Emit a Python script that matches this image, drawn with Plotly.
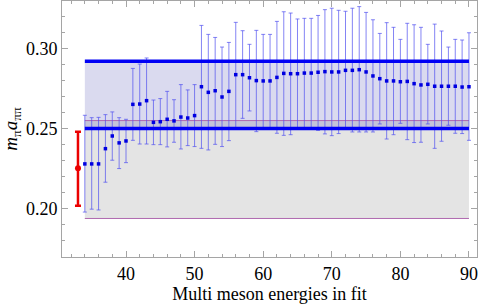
import plotly.graph_objects as go

# Multi-meson fit results
energies = list(range(34, 91))
central = [0.228, 0.228, 0.228, 0.2375, 0.2454, 0.2411, 0.2423, 0.2651, 0.2653, 0.2674,
           0.2539, 0.2543, 0.2558, 0.2548, 0.2572, 0.2566, 0.2581, 0.2761, 0.2726, 0.2736,
           0.2697, 0.2732, 0.2836, 0.2836, 0.2817, 0.2799, 0.2797, 0.2797, 0.2819, 0.2844,
           0.2842, 0.2842, 0.2846, 0.2846, 0.2851, 0.2855, 0.2853, 0.2853, 0.2863, 0.2863,
           0.2867, 0.2853, 0.2828, 0.2811, 0.2797, 0.2797, 0.2792, 0.2794, 0.2780, 0.2772,
           0.2776, 0.2764, 0.2764, 0.2764, 0.2764, 0.2759, 0.2761]
upper = [0.2583, 0.2568, 0.2570, 0.2587, 0.2604, 0.2568, 0.2558, 0.2875, 0.2902, 0.2940,
         0.2678, 0.2687, 0.2732, 0.2680, 0.2774, 0.2741, 0.2774, 0.3143, 0.3087, 0.3068,
         0.3008, 0.3037, 0.3162, 0.3110, 0.3025, 0.3112, 0.3087, 0.3087, 0.3168, 0.3228,
         0.3220, 0.3183, 0.3187, 0.3187, 0.3205, 0.3241, 0.3250, 0.3237, 0.3231, 0.3250,
         0.3260, 0.3224, 0.3178, 0.3093, 0.3160, 0.3131, 0.3056, 0.3156, 0.3147, 0.3131,
         0.3025, 0.3151, 0.3108, 0.3008, 0.3056, 0.3052, 0.3097]
lower = [0.1980, 0.1998, 0.1993, 0.2166, 0.2303, 0.2251, 0.2288, 0.2427, 0.2404, 0.2404,
         0.2400, 0.2400, 0.2386, 0.2415, 0.2373, 0.2394, 0.2388, 0.2377, 0.2367, 0.2402,
         0.2388, 0.2425, 0.2505, 0.2564, 0.2610, 0.2481, 0.2505, 0.2505, 0.2471, 0.2458,
         0.2462, 0.2505, 0.2505, 0.2505, 0.2489, 0.2467, 0.2456, 0.2469, 0.2505, 0.2479,
         0.2479, 0.2479, 0.2479, 0.2529, 0.2435, 0.2462, 0.2533, 0.2431, 0.2413, 0.2415,
         0.2529, 0.2377, 0.2421, 0.2521, 0.2471, 0.2469, 0.2427]

# Reference (red) point
ref_x = [33]
ref_y = [0.2253]
ref_upper = [0.2481]
ref_lower = [0.2020]

# Bands
band_x = [34, 90]
blue_band = [0.250, 0.292]
gray_band = [0.194, 0.255]

FONT = "Times New Roman, Liberation Serif, serif"

fig = go.Figure()

fig.add_trace(go.Scatter(
    x=[band_x[0], band_x[1], band_x[1], band_x[0], band_x[0]],
    y=[gray_band[0], gray_band[0], gray_band[1], gray_band[1], gray_band[0]],
    fill="toself", fillcolor="rgba(128,128,128,0.21)", mode="none",
    hoverinfo="skip", showlegend=False))
fig.add_trace(go.Scatter(
    x=[band_x[0], band_x[1], band_x[1], band_x[0], band_x[0]],
    y=[blue_band[0], blue_band[0], blue_band[1], blue_band[1], blue_band[0]],
    fill="toself", fillcolor="rgba(60,60,170,0.19)", mode="none",
    hoverinfo="skip", showlegend=False))
for yv in gray_band:
    fig.add_trace(go.Scatter(x=band_x, y=[yv, yv], mode="lines",
                             line=dict(color="rgb(175,105,175)", width=1),
                             hoverinfo="skip", showlegend=False))

fig.add_trace(go.Scatter(
    x=energies, y=central, mode="markers",
    marker=dict(symbol="square", size=3.5, color="rgb(0,0,225)"),
    error_y=dict(type="data", symmetric=False,
                 array=[u - c for u, c in zip(upper, central)],
                 arrayminus=[c - l for c, l in zip(central, lower)],
                 color="rgba(80,80,240,0.7)", thickness=1, width=2),
    showlegend=False))

for yv in blue_band:
    fig.add_trace(go.Scatter(x=band_x, y=[yv, yv], mode="lines",
                             line=dict(color="rgb(0,0,245)", width=3.5),
                             hoverinfo="skip", showlegend=False))

fig.add_trace(go.Scatter(
    x=ref_x, y=ref_y, mode="markers",
    marker=dict(symbol="circle", size=6, color="rgb(235,0,0)"),
    error_y=dict(type="data", symmetric=False,
                 array=[ref_upper[0] - ref_y[0]],
                 arrayminus=[ref_y[0] - ref_lower[0]],
                 color="rgb(235,0,0)", thickness=2.5, width=3),
    showlegend=False))

axis_common = dict(
    showline=True, mirror="allticks", linecolor="rgb(165,165,165)", linewidth=1,
    ticks="inside", tickcolor="rgb(165,165,165)", ticklen=6, tickwidth=1,
    showgrid=False, zeroline=False,
    tickfont=dict(family=FONT, size=18, color="black"),
)

fig.update_layout(
    width=480, height=305,
    margin=dict(l=62, r=3, t=1, b=48),
    paper_bgcolor="white", plot_bgcolor="white",
    font=dict(family=FONT, color="black"),
    xaxis=dict(range=[30.67, 91.17], tickvals=[40, 50, 60, 70, 80, 90],
               minor=dict(dtick=2, tick0=0, ticks="inside", ticklen=3,
                          tickcolor="rgb(165,165,165)"),
               title=dict(text="Multi meson energies in fit", standoff=2,
                          font=dict(family=FONT, size=18, color="black")),
               **axis_common),
    yaxis=dict(range=[0.17, 0.3295], tickvals=[0.20, 0.25, 0.30],
               ticktext=["0.20", "0.25", "0.30"],
               minor=dict(dtick=0.01, tick0=0, ticks="inside", ticklen=3,
                          tickcolor="rgb(165,165,165)"),
               title=dict(text="<i>m</i><sub>π</sub><i>a</i><sub>ππ</sub>", standoff=7,
                          font=dict(family=FONT, size=19, color="black")),
               **axis_common),
)

fig.write_html("out.html", config={"displayModeBar": False},
               post_script="document.body.style.margin='0';")
